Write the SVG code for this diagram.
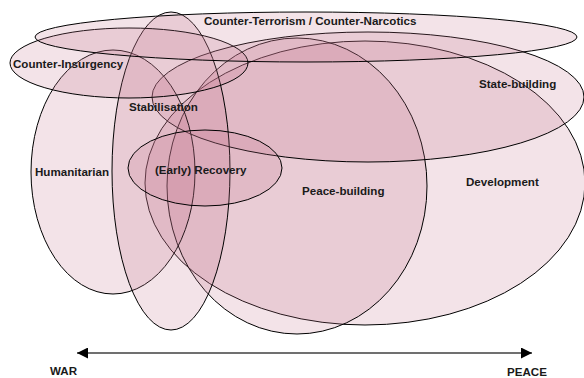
<svg xmlns="http://www.w3.org/2000/svg" width="584" height="378" viewBox="0 0 584 378">
<style>
.e{fill:#c3738c;fill-opacity:0.2;stroke:#000;stroke-width:1}
.t{font-family:"Liberation Sans",Arial,sans-serif;font-weight:bold;font-size:11.6px;fill:#1a1a1a}
</style>
<defs>
<marker id="ah" viewBox="0 0 10 10" refX="10" refY="5" markerWidth="15" markerHeight="11" markerUnits="userSpaceOnUse" orient="auto-start-reverse">
<path d="M0,0 L10,5 L0,10 Z" fill="#000"/>
</marker>
</defs>
<rect width="584" height="378" fill="#fff"/>
<g id="development"><ellipse class="e" cx="365" cy="183" rx="220" ry="142"/><text class="t" x="466" y="186">Development</text></g>
<g id="peace-building"><ellipse class="e" cx="297" cy="186" rx="130" ry="148"/><text class="t" x="302" y="195">Peace-building</text></g>
<g id="state-building"><ellipse class="e" cx="368" cy="97" rx="216" ry="65"/><text class="t" x="479" y="88">State-building</text></g>
<g id="humanitarian"><ellipse class="e" cx="113" cy="172" rx="82" ry="122"/><text class="t" x="35" y="176">Humanitarian</text></g>
<g id="stabilisation"><ellipse class="e" cx="171" cy="171" rx="59" ry="159"/><text class="t" x="129" y="111">Stabilisation</text></g>
<g id="early-recovery"><ellipse class="e" cx="205" cy="168" rx="77" ry="38"/><text class="t" x="155" y="174">(Early) Recovery</text></g>
<g id="counter-insurgency"><ellipse class="e" cx="129" cy="63" rx="119" ry="35"/><text class="t" x="13" y="68">Counter-Insurgency</text></g>
<g id="counter-terrorism"><ellipse class="e" cx="306" cy="37" rx="271" ry="25"/><text class="t" x="204" y="25">Counter-Terrorism / Counter-Narcotics</text></g>
<g id="connectors">
<line x1="77" y1="353" x2="532" y2="353" stroke="#707070" stroke-width="2" marker-start="url(#ah)" marker-end="url(#ah)"/>
</g>
<g id="axis-labels">
<text class="t" x="50" y="375">WAR</text>
<text class="t" x="507" y="376">PEACE</text>
</g>
</svg>
